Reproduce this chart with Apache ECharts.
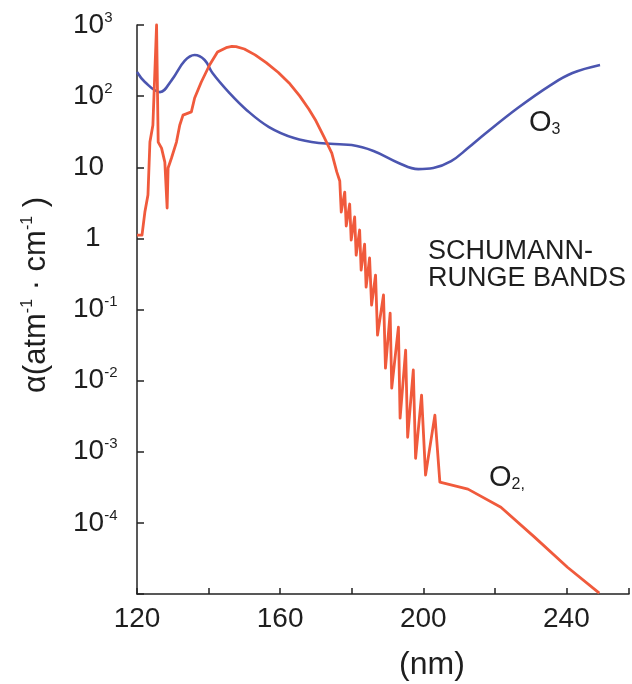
<!DOCTYPE html>
<html>
<head>
<meta charset="utf-8">
<script src="https://cdn.jsdelivr.net/npm/echarts@6/dist/echarts.min.js"></script>
<style>html,body{margin:0;padding:0;background:#fff;}#c{width:632px;height:684px;}</style>
</head>
<body>
<div id="c"></div>
<script>
// O3 absorption coefficient (wavelength nm, alpha)
const o3Wave = [120, 122.2, 126.4, 129.7, 133.3, 136.1, 138.9, 141.1, 145.8, 150.6, 156.9, 163.9, 170.8, 180, 186.1, 193.1, 198.6, 202.8, 207.8, 212.5, 217.2, 226.4, 235.6, 241.7, 249.4];
const o3Alpha = [218, 158, 114, 168, 312, 378, 322, 211, 111, 64, 36.7, 25.7, 21.9, 20.5, 16.9, 11.5, 9.4, 9.75, 12.2, 18.6, 29.3, 68, 143, 211, 274];

// O2 absorption coefficient (wavelength nm, alpha), incl. Schumann-Runge bands
const o2Wave = [120.0, 121.4, 122.2, 123.06, 123.61, 124.44, 125.47, 125.92, 126.86, 127.78, 128.42, 128.69, 129.64, 131.03, 131.94, 132.86, 135.19, 136.11, 137.97, 140.28, 142.5, 144.92, 146.5, 147.69, 150.0, 153.0, 156.1, 159.5, 162.5, 165.5, 168.0, 170.0, 172.22, 174.44, 175.83,
  176.67, 177.08, 178.06, 178.47, 179.44, 179.86, 180.83, 181.25, 182.22, 182.64, 183.61, 184.03, 185.0, 185.56, 186.67, 187.22, 188.89, 189.44, 190.75, 191.19, 193.06, 193.53, 195.08, 195.64, 197.22, 197.86, 199.53, 200.64, 203.25, 204.64,
  212.5, 221.7, 231.1, 240.3, 249.2];
const o2Alpha = [1.11, 1.11, 2.34, 4.06, 22.6, 39, 1000, 22.6, 18.6, 11.8, 2.67, 9.75, 13.5, 22.6, 39, 54, 60, 94, 158, 274, 417, 480, 500, 495, 460, 380, 295, 215, 153, 100, 66, 45, 27, 15.8, 8.6,
  6.4, 2.34, 4.48, 1.49, 3.04, 0.946, 2.0, 0.58, 1.31, 0.358, 0.83, 0.206, 0.53, 0.115, 0.305, 0.0436, 0.16, 0.015, 0.089, 0.00785, 0.0565, 0.00297, 0.0268, 0.0016, 0.0141, 0.00081, 0.00625, 0.00047, 0.00327, 0.000373,
  0.000298, 0.000166, 0.000063, 0.0000238, 0.0000103];

const xLabels = [120, 160, 200, 240];

const SANS = "'Liberation Sans', Arial, sans-serif";
const TXT = '#1e1e1e';

const o3Data = o3Wave.map((w, i) => [w, o3Alpha[i]]);
const o2Data = o2Wave.map((w, i) => [w, o2Alpha[i]]);

const chart = echarts.init(document.getElementById('c'), null, {renderer: 'canvas'});
chart.setOption({
  animation: false,
  backgroundColor: '#fff',
  grid: {left: 137, right: 0, top: 25, bottom: 90, containLabel: false},
  xAxis: {
    type: 'value', min: 120, max: 257.5, interval: 20,
    axisLine: {show: true, lineStyle: {color: '#222', width: 1.5}},
    axisTick: {show: true, inside: true, length: 6, lineStyle: {color: '#222', width: 1.5}},
    splitLine: {show: false},
    axisLabel: {
      margin: 11, color: TXT, fontFamily: SANS, fontSize: 28,
      formatter: v => xLabels.includes(Math.round(v)) ? String(Math.round(v)) : ''
    }
  },
  yAxis: {
    type: 'log', logBase: 10, min: 0.00001, max: 1000, splitNumber: 8,
    axisLine: {show: true, lineStyle: {color: '#222', width: 1.5}},
    axisTick: {show: true, inside: true, length: 7, lineStyle: {color: '#222', width: 1.5}},
    minorTick: {show: false},
    splitLine: {show: false},
    axisLabel: {
      margin: 64, align: 'left', color: TXT,
      formatter: v => {
        const e = Math.round(Math.log10(v));
        if (e <= -5) return '';
        if (e === 0) return '{one|1}';
        if (e === 1) return '{b|10}';
        return '{b|10}{s|' + (e < 0 ? '-' + (-e) : e) + '}';
      },
      rich: {
        b: {fontFamily: SANS, fontSize: 28, lineHeight: 30, color: TXT},
        one: {fontFamily: SANS, fontSize: 28, lineHeight: 30, color: TXT, padding: [0, 0, 0, 12]},
        s: {fontFamily: SANS, fontSize: 15, lineHeight: 16, verticalAlign: 'top', color: TXT}
      }
    }
  },
  series: [
    {name: 'O3', type: 'line', data: o3Data, showSymbol: false, smooth: 0.4, clip: false,
     lineStyle: {color: '#4b55b0', width: 2.6}},
    {name: 'O2', type: 'line', data: o2Data, showSymbol: false, smooth: false, clip: false,
     lineStyle: {color: '#f05a3c', width: 2.8, join: 'round'}}
  ],
  graphic: [
    {type: 'text', x: 36, y: 295, rotation: Math.PI / 2,
     style: {text: '{t|α(atm}{s|-1}{t| · cm}{s|-1}{t| )}', align: 'center', verticalAlign: 'middle',
       rich: {t: {fontFamily: SANS, fontSize: 31, lineHeight: 32, fill: TXT},
              s: {fontFamily: SANS, fontSize: 16, lineHeight: 16, verticalAlign: 'top', fill: TXT}}}},
    {type: 'text', x: 432, y: 665,
     style: {text: '(nm)', font: '32px ' + SANS, fill: TXT, align: 'center', verticalAlign: 'middle'}},
    {type: 'text', x: 428, y: 238,
     style: {text: 'SCHUMANN-\nRUNGE BANDS', font: '27px ' + SANS, lineHeight: 27, fill: TXT, align: 'left', verticalAlign: 'top'}},
    {type: 'text', x: 529, y: 123,
     style: {text: '{a|O}{b|3}', align: 'left', verticalAlign: 'middle',
       rich: {a: {fontFamily: SANS, fontSize: 29, lineHeight: 30, fill: TXT},
              b: {fontFamily: SANS, fontSize: 16, lineHeight: 16, verticalAlign: 'bottom', fill: TXT}}}},
    {type: 'text', x: 489, y: 478,
     style: {text: '{a|O}{b|2,}', align: 'left', verticalAlign: 'middle',
       rich: {a: {fontFamily: SANS, fontSize: 29, lineHeight: 30, fill: TXT},
              b: {fontFamily: SANS, fontSize: 16, lineHeight: 16, verticalAlign: 'bottom', fill: TXT}}}}
  ]
});
</script>
</body>
</html>
